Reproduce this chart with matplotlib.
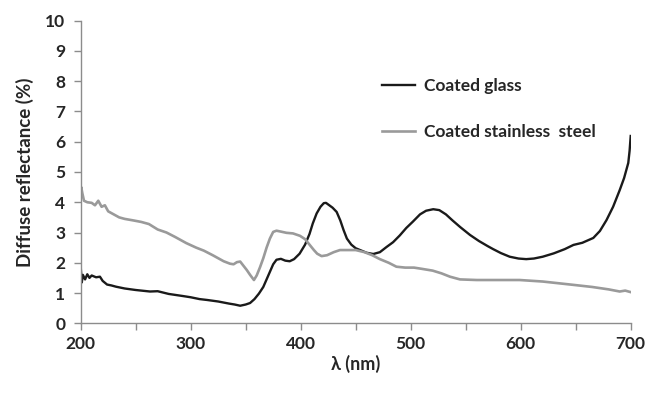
import matplotlib
matplotlib.use("Agg")
import matplotlib.pyplot as plt

plt.rcParams['font.family'] = ['Lato', 'DejaVu Sans']
plt.rcParams['font.weight'] = 'bold'

# coated glass (black)
wl_glass = [200, 201, 202, 204, 206, 208, 210, 214, 217.5, 220, 224, 228, 232, 240, 250, 263, 270,
            280, 293, 300, 308, 315, 325, 335, 340, 345, 350, 354, 358, 362, 366, 369, 372, 375,
            378, 382, 386, 390, 394, 399, 404, 408, 411, 414.5, 418, 421, 423, 426, 429, 432.7,
            436, 439, 442, 446, 450, 454, 460, 466, 472, 478, 484, 490, 496, 502, 508.5, 514,
            520.5, 526, 532, 538, 545, 553.9, 562, 570, 575, 582, 590, 598, 605, 612, 620, 630,
            640, 648, 656, 666, 672, 678, 684, 690, 694, 697.8, 699, 700]
r_glass = [1.87, 1.35, 1.6, 1.45, 1.62, 1.5, 1.58, 1.52, 1.54, 1.4, 1.28, 1.25, 1.21, 1.15, 1.1, 1.05, 1.06,
           0.97, 0.9, 0.86, 0.8, 0.77, 0.72, 0.65, 0.62, 0.58, 0.62, 0.67, 0.8, 0.98, 1.2, 1.45, 1.7, 1.95,
           2.1, 2.13, 2.07, 2.05, 2.12, 2.3, 2.6, 2.95, 3.3, 3.63, 3.85, 3.97, 3.98, 3.9, 3.82, 3.68,
           3.4, 3.08, 2.8, 2.6, 2.48, 2.42, 2.33, 2.29, 2.35, 2.52, 2.68, 2.9, 3.15, 3.36, 3.6, 3.72,
           3.77, 3.74, 3.6, 3.4, 3.18, 2.92, 2.72, 2.55, 2.45, 2.32, 2.2, 2.14, 2.12, 2.14, 2.2, 2.31,
           2.45, 2.59, 2.66, 2.82, 3.05, 3.41, 3.85, 4.4, 4.8, 5.3, 5.7, 6.19]

# coated stainless steel (grey)
wl_steel = [200, 200.5, 201.5, 203, 206, 210, 213, 216, 219, 222, 225, 230, 235, 240, 247.8, 255, 262,
            270, 278, 286, 296, 305, 312, 320, 325, 330, 335.7, 339, 342, 345, 348, 351, 354, 357.5,
            360, 363, 366, 369, 372, 375, 378, 382, 387, 393, 399.4, 404, 408, 412, 415, 419, 424,
            430, 435.7, 442, 450, 458, 465, 472, 480, 487, 495, 503, 510, 520, 528, 535.7, 544.8,
            560, 580, 599, 620, 647.8, 665, 680, 690, 695, 700]
r_steel = [4.1, 4.5, 4.3, 4.05, 4.0, 3.98, 3.9, 4.05, 3.85, 3.9, 3.7, 3.6, 3.5, 3.45, 3.4, 3.35, 3.28,
           3.1, 3.0, 2.85, 2.65, 2.5, 2.4, 2.25, 2.15, 2.05, 1.97, 1.95, 2.02, 2.04, 1.9, 1.76, 1.6, 1.43,
           1.58, 1.85, 2.15, 2.5, 2.8, 3.02, 3.06, 3.03, 2.99, 2.97, 2.89, 2.78, 2.6, 2.42, 2.3, 2.22, 2.25,
           2.35, 2.42, 2.42, 2.42, 2.35, 2.25, 2.12, 2.0, 1.87, 1.84, 1.84, 1.8, 1.74, 1.65, 1.54, 1.45,
           1.43, 1.43, 1.43, 1.38, 1.27, 1.2, 1.12, 1.05, 1.08, 1.03]

x_ticks = [200, 300, 400, 500, 600, 700]
x_minor = [250, 350, 450, 550, 650]
y_ticks = [0, 1, 2, 3, 4, 5, 6, 7, 8, 9, 10]

txt = '#262626'

fig = plt.figure(figsize=(6.47, 3.93), dpi=100)
ax = fig.add_axes([0.1247, 0.1774, 0.8501, 0.7699])

ax.plot(wl_glass, r_glass, color='#1a1a1a', lw=1.7, label='Coated glass')
ax.plot(wl_steel, r_steel, color='#9a9a9a', lw=1.9, label='Coated stainless  steel')

ax.set_xlim(200, 700)
ax.set_ylim(0, 10)
ax.set_xticks(x_ticks, [str(v) for v in x_ticks], fontsize=12.5, fontweight='bold', color=txt)
ax.set_xticks(x_minor, minor=True)
ax.set_yticks(y_ticks, [str(v) for v in y_ticks], fontsize=12.5, fontweight='bold', color=txt)

for s in ['top', 'right']:
    ax.spines[s].set_visible(False)
for s in ['left', 'bottom']:
    ax.spines[s].set_color('#8c8c8c')
    ax.spines[s].set_linewidth(1)
ax.tick_params(which='both', direction='out', length=5, color='#8c8c8c', width=1)
ax.tick_params(axis='x', pad=4)
ax.tick_params(axis='y', pad=6)

ax.set_xlabel('λ (nm)', fontsize=13, color=txt, fontweight='bold', labelpad=2)
ax.set_ylabel('Diffuse reflectance (%)', fontsize=13.5, color=txt, fontweight='bold', labelpad=8)

ax.legend(loc='upper left', bbox_to_anchor=(0.52, 0.862), frameon=False,
          prop={'size': 12.5, 'weight': 'bold'},
          handlelength=1.9, handletextpad=0.5, labelspacing=1.72, labelcolor=txt)

fig.savefig('out.png', dpi=100)
